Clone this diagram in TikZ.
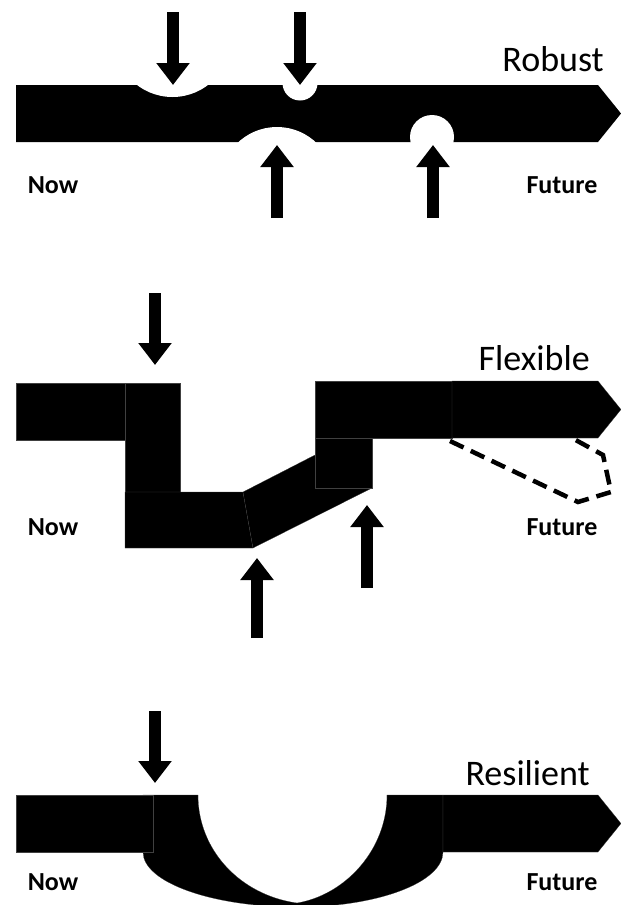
\documentclass[tikz,border=0pt]{standalone}
\usepackage{fontspec}
\setmainfont{Carlito}
\usetikzlibrary{arrows.meta}

\begin{document}
\begin{tikzpicture}[
          x=1pt, y=-1pt,
          band/.style={fill=black, draw=black!75, line width=0.2pt},
          hit/.style={line width=12pt, -{Triangle[width=32pt,length=22pt]}},
          drift/.style={dash pattern=on 15pt off 8pt, line width=4.5pt},
          title/.style={font=\fontsize{36}{40}\selectfont, anchor=base east, inner sep=0pt},
          tag/.style={font=\bfseries\fontsize{26}{30}\selectfont, anchor=base, inner sep=0pt}
        ]
        \useasboundingbox (0,0) rectangle (621,905);

        % robust
        \fill[black] (16,85) -- (598,85) -- (621,113.5) -- (598,142) -- (16,142) -- cycle;
        \begin{scope}
          \clip (16,85) rectangle (621,142);
          \fill[white] (172.5,38.5) circle[radius=58.5pt];
          \fill[white] (300,83) circle[radius=17.5pt];
          \fill[white] (277,184) circle[radius=57pt];
          \fill[white] (432,137) circle[radius=22pt];
        \end{scope}
        \node[title] (robust) at (604,71) {Robust};
        \node[tag] (now1) at (53,193) {Now};
        \node[tag] (future1) at (562,193) {Future};
        \coordinate (r1) at (173,12);  \coordinate (r1t) at (173,85);
        \coordinate (r2) at (300,12);  \coordinate (r2t) at (300,85);
        \coordinate (r3) at (277,218); \coordinate (r3t) at (277,145);
        \coordinate (r4) at (433,218); \coordinate (r4t) at (433,145);
        \draw[hit] (r1) -- (r1t);
        \draw[hit] (r2) -- (r2t);
        \draw[hit] (r3) -- (r3t);
        \draw[hit] (r4) -- (r4t);

        % flexible
        \path[band] (16,383) rectangle (125,440);
        \path[band] (125,383) rectangle (180,492);
        \path[band] (125,492) -- (243,492) -- (253,548) -- (125,548) -- cycle;
        \path[band] (243,492) -- (315,455) -- (372,488) -- (253,548) -- cycle;
        \path[band] (315,381) rectangle (372,488);
        \path[band] (315,381) rectangle (452,438);
        \path[band] (452,381) -- (598,381) -- (621,409.5) -- (598,438) -- (452,438) -- cycle;
        \draw[drift] (450,441) -- (578,502) -- (611,492) -- (603,455) -- (572,438);
        \node[title] (flexible) at (590,370) {Flexible};
        \node[tag] (now2) at (53,535) {Now};
        \node[tag] (future2) at (562,535) {Future};
        \coordinate (f1) at (155,293); \coordinate (f1t) at (155,365);
        \coordinate (f2) at (257,638); \coordinate (f2t) at (257,558);
        \coordinate (f3) at (367,588); \coordinate (f3t) at (367,505);
        \draw[hit] (f1) -- (f1t);
        \draw[hit] (f2) -- (f2t);
        \draw[hit] (f3) -- (f3t);

        % resilient
        \path[band] (143,795) -- (198,795) .. controls (198,850) and (240,895) .. (297,903)
          .. controls (345,895) and (387,850) .. (387,795) -- (443,795) -- (443,852)
          .. controls (443,882.4) and (377.6,907) .. (297,907)
          .. controls (212,907) and (143,882.4) .. (143,852) -- cycle;
        \path[band] (16,795) rectangle (153,852);
        \path[band] (443,795) -- (598,795) -- (621,823.5) -- (598,852) -- (443,852) -- cycle;
        \node[title] (resilient) at (590,785) {Resilient};
        \node[tag] (now3) at (53,890) {Now};
        \node[tag] (future3) at (562,890) {Future};
        \coordinate (s1) at (155,711); \coordinate (s1t) at (155,783);
        \draw[hit] (s1) -- (s1t);
\end{tikzpicture}
\end{document}
